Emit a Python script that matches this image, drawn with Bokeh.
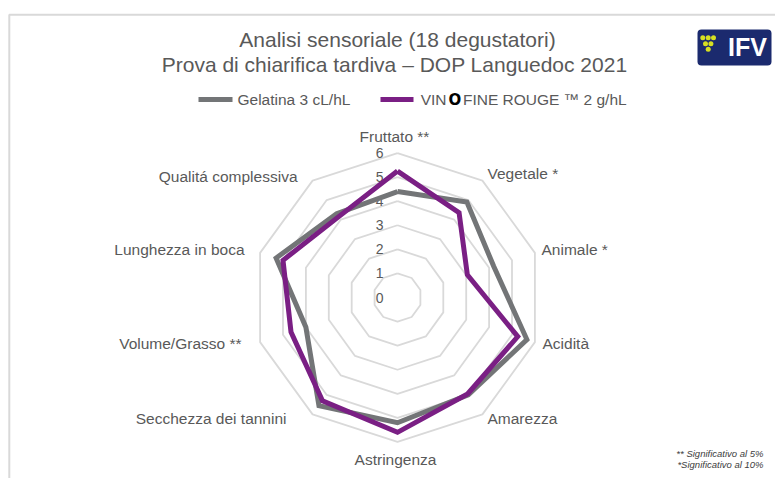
import numpy as np
from bokeh.plotting import figure
from bokeh.models import Range1d
from bokeh.core.properties import value
from bokeh.embed import file_html
from bokeh.resources import INLINE

# ---------------- data ----------------
categories = ["Fruttato **", "Vegetale *", "Animale *", "Acidità", "Amarezza",
              "Astringenza", "Secchezza dei tannini", "Volume/Grasso **",
              "Lunghezza in boca", "Qualitá complessiva"]
gelatina = [4.4, 4.9, 4.2, 5.65, 5.0, 5.2, 5.55, 4.0, 5.3, 4.3]
vinofine = [5.25, 4.35, 3.05, 5.25, 4.95, 5.6, 5.3, 4.65, 5.0, 4.15]
ticks = [0, 1, 2, 3, 4, 5, 6]
series_names = ["Gelatina 3 cL/hL", "VINOFINE ROUGE ™  2 g/hL"]
title_lines = ["Analisi sensoriale (18 degustatori)",
               "Prova di chiarifica tardiva  – DOP Languedoc 2021"]
footnotes = ["** Significativo al 5%", "*Significativo al 10%"]

# ---------------- layout ----------------
W, H = 775, 478
OX, OY = 0, 0            # page position of the figure's top-left corner
S = 24.08                # pixels per value unit
CX, CY = 397.0, 297.0    # radar centre in page pixels


def X(px):
    return (px - CX) / S


def Y(py):
    return (CY - py) / S


FONT = value("Liberation Sans")
TXT = "#595959"
GRAY = "#737577"
PURPLE = "#7a1f84"
GRID = "#d9d9d9"

p = figure(width=W, height=H, x_range=Range1d(X(OX), X(OX + W)),
           y_range=Range1d(Y(OY + H), Y(OY)), output_backend="svg",
           toolbar_location=None, min_border=0, outline_line_color=None,
           x_axis_location=None, y_axis_location=None)
p.grid.visible = False
p.background_fill_color = "white"

# chart frame (partially visible)
p.line([X(8.8), X(8.8), X(790)], [Y(490), Y(14.3), Y(14.3)],
       line_color=GRID, line_width=2)

n = len(categories)
theta = 2 * np.pi * np.arange(n) / n
sx, cy_ = np.sin(theta), np.cos(theta)

# grid rings
ring_xs, ring_ys = [], []
for t in ticks[1:]:
    ring_xs.append(list(np.append(t * sx, t * sx[0])))
    ring_ys.append(list(np.append(t * cy_, t * cy_[0])))
p.multi_line(ring_xs, ring_ys, line_color=GRID, line_width=1.8)

# tick labels
p.text(x=[X(383)] * len(ticks), y=ticks, text=[str(t) for t in ticks],
       text_font=FONT, text_font_size=value("14px"), text_color=TXT,
       text_align="right", text_baseline="middle")

# series
for vals, col in ((gelatina, GRAY), (vinofine, PURPLE)):
    v = np.array(vals)
    xs = np.append(v * sx, v[0] * sx[0])
    ys = np.append(v * cy_, v[0] * cy_[0])
    p.line(xs, ys, line_color=col, line_width=5, line_join="miter")

# category labels (page-pixel anchors)
lab_px = [(394, 136, "center"), (487, 173, "left"), (541, 249, "left"),
          (542, 343, "left"), (487, 418, "left"), (395, 459, "center"),
          (286, 418, "right"), (241, 343, "right"), (244, 249, "right"),
          (297, 176, "right")]
for (lx, ly, al), name in zip(lab_px, categories):
    p.text(x=[X(lx)], y=[Y(ly)], text=[name], text_font=FONT,
           text_font_size=value("15.5px"), text_color=TXT,
           text_align=al, text_baseline="middle")

# title
for ty, t in zip((39, 64), title_lines):
    p.text(x=[X(397)], y=[Y(ty)], text=[t], text_font=FONT,
           text_font_size=value("21px"), text_color=TXT,
           text_align="center", text_baseline="middle")

# legend
p.line([X(198), X(232)], [Y(99), Y(99)], line_color=GRAY, line_width=5)
p.text(x=[X(237)], y=[Y(99)], text=[series_names[0]], text_font=FONT,
       text_font_size=value("15.5px"), text_color=TXT, text_align="left",
       text_baseline="middle")
p.line([X(380), X(413)], [Y(99), Y(99)], line_color=PURPLE, line_width=5)
name2 = series_names[1]
p.text(x=[X(446)], y=[Y(99)], text=[name2[:3]], text_font=FONT,
       text_font_size=value("15.5px"), text_color=TXT, text_align="right",
       text_baseline="middle")
p.text(x=[X(454.5)], y=[Y(99.5)], text=[name2[3]], text_font=value("DejaVu Sans"),
       text_font_size=value("15px"), text_color="black",
       text_font_style="bold", text_align="center", text_baseline="middle")
p.text(x=[X(462.5)], y=[Y(99)], text=[name2[4:]], text_font=FONT,
       text_font_size=value("15.5px"), text_color=TXT, text_align="left",
       text_baseline="middle")

# IFV logo
p.quad(left=[X(697)], right=[X(771)], top=[Y(29)], bottom=[Y(65)],
       fill_color="#1b2a6e", line_color=None, border_radius=4)
dots_x = [702.3, 707.7, 713.0, 705.0, 710.4, 707.7]
dots_y = [37.3, 37.3, 37.3, 43.2, 43.2, 48.8]
p.scatter([X(a) for a in dots_x], [Y(b) for b in dots_y], size=5,
          fill_color="#d6df22", line_color=None)
p.text(x=[X(747)], y=[Y(46)], text=["IFV"], text_font=FONT,
       text_font_size=value("25px"), text_font_style="bold",
       text_color="white", text_align="center", text_baseline="middle")

# footnotes
for fy, f in zip((453, 464), footnotes):
    p.text(x=[X(763)], y=[Y(fy)], text=[f], text_font=FONT,
           text_font_size=value("9.5px"), text_font_style="italic",
           text_color="#404040", text_align="right", text_baseline="middle")

open("out.html", "w").write(file_html(p, INLINE))
